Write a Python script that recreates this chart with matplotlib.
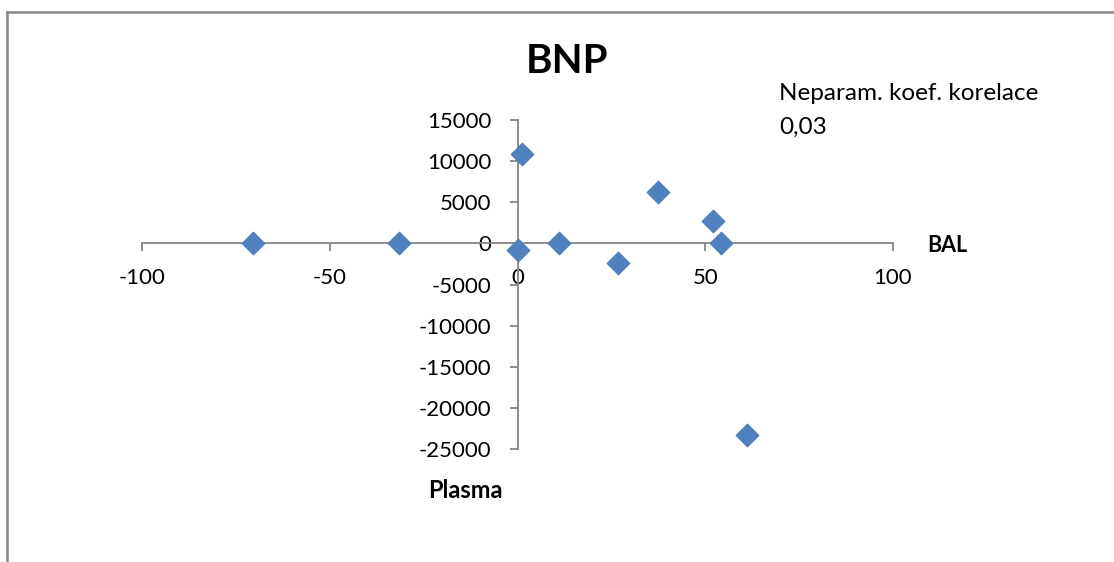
import matplotlib
matplotlib.use("Agg")
import matplotlib.pyplot as plt
from matplotlib.lines import Line2D

plt.rcParams['font.family'] = ['Lato', 'DejaVu Sans']

# BAL vs. plasma BNP
bal = [-70.6, -31.5, 0.0, 1.1, 11.0, 26.8, 37.5, 52.0, 54.1, 61.2]
plasma = [0, 0, -800, 10900, 0, -2350, 6250, 2750, 50, -23250]

x_ticks = [-100, -50, 0, 50, 100]
y_ticks = [15000, 10000, 5000, 0, -5000, -10000, -15000, -20000, -25000]

W, H = 1114, 562
fig = plt.figure(figsize=(W / 100, H / 100), dpi=100)

def fx(px):
    return px / W

def fy(py):
    return 1 - py / H

grey = '#868686'
blue = '#4F81BD'

ax = fig.add_axes([fx(142.3), fy(449.3), fx(893) - fx(142.3), fy(120) - fy(449.3)])
ax.scatter(bal, plasma, marker='D', s=130, color=blue, zorder=3, clip_on=False)

ax.set_xlim(-100, 100)
ax.set_ylim(-25000, 15000)
ax.set_xticks(x_ticks)
ax.set_yticks(y_ticks)
ax.set_xticklabels([str(v) for v in x_ticks])
ax.set_yticklabels([str(v) for v in y_ticks])

for side in ['top', 'right']:
    ax.spines[side].set_visible(False)
ax.spines['left'].set_position(('data', 0))
ax.spines['bottom'].set_position(('data', 0))
for side in ['left', 'bottom']:
    ax.spines[side].set_color(grey)
    ax.spines[side].set_linewidth(1.3)
    ax.spines[side].set_zorder(2)

ax.tick_params(axis='x', direction='out', length=6, width=1.3, color=grey,
               pad=12, labelsize=16, labelcolor='black')
ax.tick_params(axis='y', direction='out', length=6, width=1.3, color=grey,
               pad=13, labelsize=16, labelcolor='black')
ax.patch.set_alpha(0)

fig.text(fx(567), fy(61.5), 'BNP', ha='center', va='center',
         fontsize=29, fontweight='bold')
fig.text(fx(779), fy(94), 'Neparam. koef. korelace', ha='left', va='center',
         fontsize=17.5)
fig.text(fx(779), fy(127), '0,03', ha='left', va='center', fontsize=17.5)
fig.text(fx(947), fy(245), 'BAL', ha='center', va='center',
         fontsize=15.5, fontweight='bold')
fig.text(fx(465.5), fy(490), 'Plasma', ha='center', va='center',
         fontsize=17, fontweight='bold')

# chart frame (left and top edges)
fig.add_artist(Line2D([fx(7), fx(7)], [fy(12), 0], color=grey, lw=1.8,
                      transform=fig.transFigure))
fig.add_artist(Line2D([fx(7), 1], [fy(12), fy(12)], color=grey, lw=1.8,
                      transform=fig.transFigure))

fig.savefig('out.png', dpi=100, facecolor='white')
